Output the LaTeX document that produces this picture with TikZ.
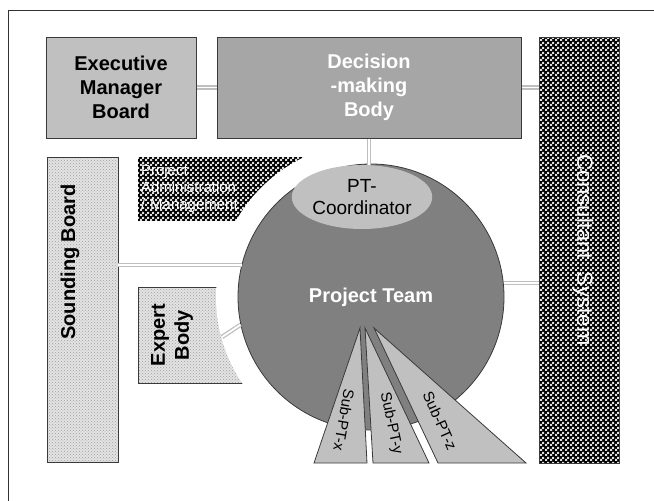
\documentclass[tikz,border=0pt]{standalone}
\usepackage{fontspec}
\setmainfont{Liberation Sans}
\usepackage{xcolor}
\usetikzlibrary{patterns}
\usetikzlibrary{calc}
\usetikzlibrary{positioning}
\usetikzlibrary{shapes.geometric}
\definecolor{lightgray}{HTML}{C0C0C0}
\definecolor{midgray}{HTML}{A6A6A6}
\definecolor{teamgray}{HTML}{808080}
\definecolor{edgegray}{HTML}{3A3A3A}
\pgfdeclarepatternformonly{finechecks}{\pgfpointorigin}{\pgfqpoint{5pt}{5pt}}{\pgfqpoint{5pt}{5pt}}
  {\pgfpathrectangle{\pgfpointorigin}{\pgfqpoint{2.5pt}{2.5pt}}
   \pgfpathrectangle{\pgfqpoint{2.5pt}{2.5pt}}{\pgfqpoint{2.5pt}{2.5pt}}\pgfusepath{fill}}
\tikzset{
  bodybox/.style={draw=edgegray, line width=1pt, inner sep=0pt, align=center,
    font=\bfseries\fontsize{20}{24}\selectfont},
  chessbox/.style={draw=edgegray, line width=0.8pt, preaction={fill=black},
    pattern=finechecks, pattern color=gray!25},
  dotbox/.style={draw=edgegray, line width=0.8pt, preaction={fill=gray!22},
    pattern=crosshatch dots, pattern color=gray!75},
  subpt/.style={draw=edgegray, line width=0.8pt, fill=lightgray},
  subtext/.style={font=\fontsize{15}{18}\selectfont, inner sep=1pt},
  link/.style={draw=gray!50, line width=1.3pt, double=white, double distance=1.8pt},
}

\begin{document}
\begin{tikzpicture}[x=1pt,y=-1pt]
  \useasboundingbox (0,0) rectangle (654,501);
  \draw[black!80, line width=0.8pt] (8,501) |- (654,10);

  % top row
  \node[bodybox, fill=lightgray, minimum width=150, minimum height=101] (emb) at (121,87.5)
    {Executive\\Manager\\Board};
  \node[bodybox, fill=midgray, text=white, minimum width=304, minimum height=101] (dmb) at (369,87.5)
    {Decision\\-making\\Body};
  \node[chessbox, minimum width=80, minimum height=426] (cs) at (579,250) {};
  \node[rotate=-90, text=white, font=\fontsize{22}{24}\selectfont] (cst) at (583,250) {Consultant~~System};

  % left column
  \node[dotbox, minimum width=71, minimum height=305] (sb) at (82.5,309.5) {};
  \node[rotate=90, font=\bfseries\fontsize{20}{24}\selectfont] (sbt) at (70,262) {Sounding Board};
  \node[chessbox, draw=none, minimum width=192, minimum height=64, text width=186, align=left,
    inner sep=3pt, text=white, font=\fontsize{15}{17}\selectfont] (pam) at (234,189)
    {Project\\Administration\\/ Management};
  \node[dotbox, minimum width=122, minimum height=96] (eb) at (199,335) {};
  \node[rotate=90, align=center, font=\bfseries\fontsize{20}{24}\selectfont] (ebt) at (172,335) {Expert\\Body};

  % gap round the team
  \fill[white] (371,297) circle (155);

  % project team
  \node[circle, draw=edgegray, line width=0.8pt, fill=teamgray, minimum size=266, inner sep=0pt,
    text=white, font=\bfseries\fontsize{20}{24}\selectfont] (pt) at (371,297) {Project Team};
  \node[ellipse, fill=lightgray, minimum width=130, minimum height=64, inner sep=0pt, align=center,
    font=\fontsize{19}{22}\selectfont] (ptc) at (362,197) {PT-\\Coordinator};

  % sub teams
  \draw[subpt] (360,328) coordinate (xa) -- (314,463) -- (367,463) -- cycle;
  \draw[subpt] (365,328) coordinate (ya) -- (373,463) -- (429,463) -- cycle;
  \draw[subpt] (374,328) coordinate (za) -- (438,463) -- (526,463) -- cycle;
  \node[subtext, rotate=-100] (spx) at (344,420) {Sub-PT-x};
  \node[subtext, rotate=-78] (spy) at (391,423) {Sub-PT-y};
  \node[subtext, rotate=-66] (spz) at (440,421) {Sub-PT-z};

  % links
  \coordinate (ebx) at (222,337);
  \draw[link] (emb.east) -- (dmb.west);
  \draw[link] (dmb.east) -- (dmb.east -| cs.west);
  \draw[link] (dmb.south) -- (dmb.south |- ptc.north);
  \draw[link] (sb.east |- pt.166) -- (pt.166);
  \draw[link] (pt.6) -- (pt.6 -| cs.west);
  \draw[link] (ebx) -- (pt.192);
\end{tikzpicture}
\end{document}
